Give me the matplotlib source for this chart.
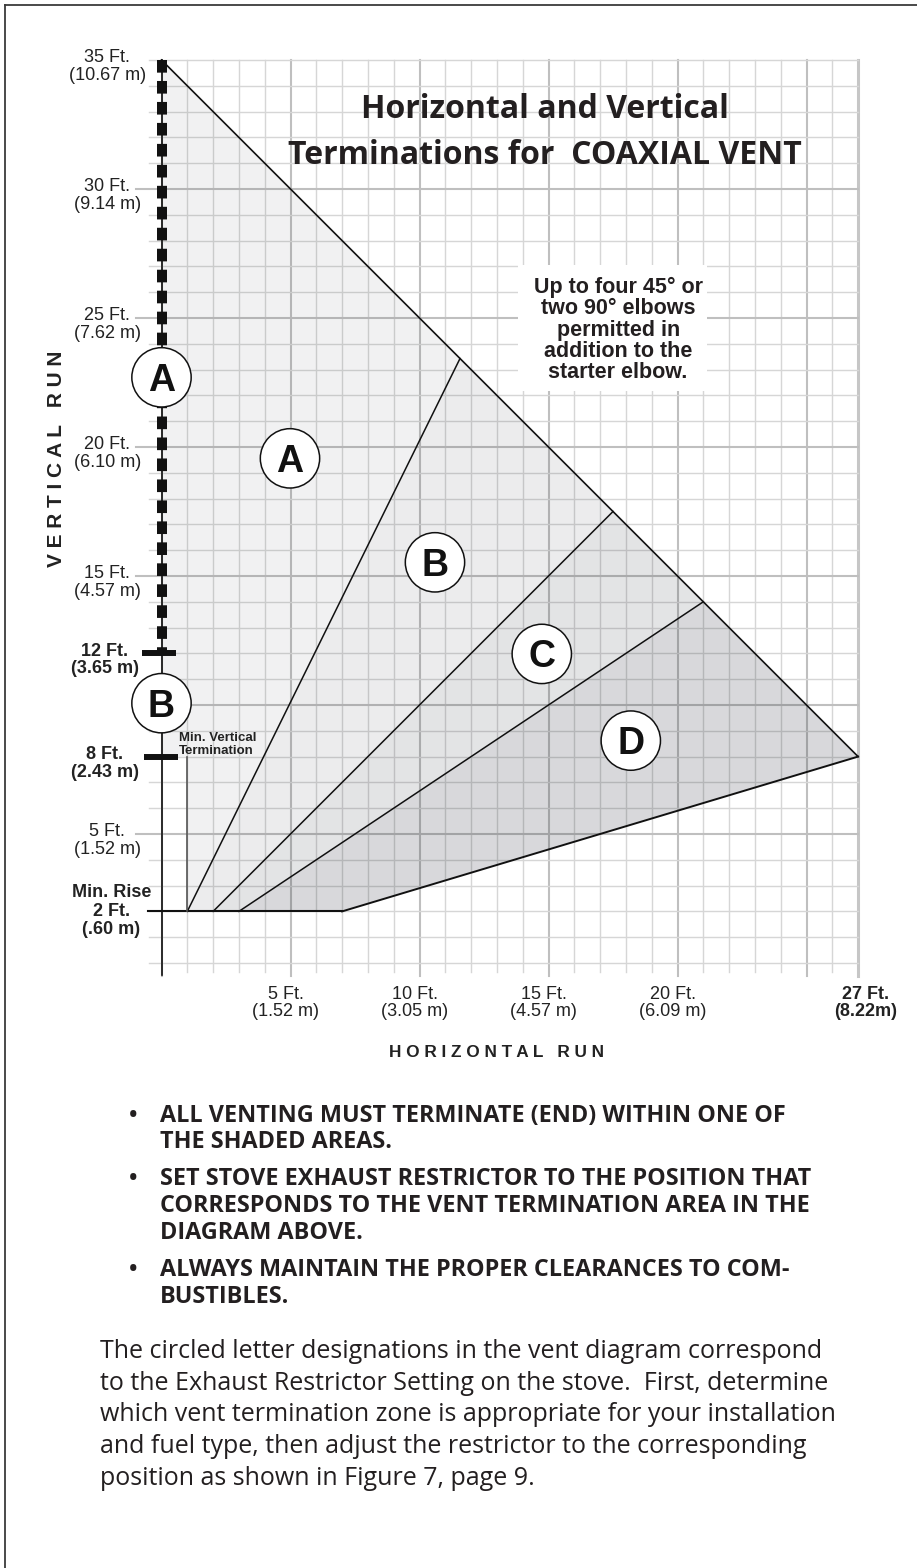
import matplotlib
matplotlib.use("Agg")
import matplotlib.pyplot as plt
from matplotlib.patches import Polygon, Circle, Rectangle
from matplotlib.lines import Line2D

plt.rcParams['lines.scale_dashes'] = False

# ---- chart values (feet) ----
max_rise = 35          # top of vertical run
max_run = 27           # end of horizontal run
end_height = 8         # height of the zone D corner at 27 ft
min_rise = 2
min_vertical = 8
coax_limit = 12        # dashed part of the vertical run starts here
floor_end = 7          # flat part of zone D bottom edge ends here
divider_base = [1, 2, 3]
divider_top = [11.57, 17.5, 21.0]
zone_letters = ['A', 'B', 'C', 'D']
zone_x = [4.98, 10.6, 14.74, 18.19]
zone_y = [19.56, 15.53, 11.98, 8.62]
zone_shade = [0.055, 0.078, 0.115, 0.16]
axis_letters = ['A', 'B']
axis_letter_y = [22.7, 10.07]

y_ticks = [35, 30, 25, 20, 15, 5]
y_ft = ['35 Ft.', '30 Ft.', '25 Ft.', '20 Ft.', '15 Ft.', '5 Ft.']
y_m = ['(10.67 m)', '(9.14 m)', '(7.62 m)', '(6.10 m)', '(4.57 m)', '(1.52 m)']
y_bold_ticks = [12, 8]
y_bold_ft = ['12 Ft.', '8 Ft.']
y_bold_m = ['(3.65 m)', '(2.43 m)']
x_ticks = [5, 10, 15, 20]
x_ft = ['5 Ft.', '10 Ft.', '15 Ft.', '20 Ft.']
x_m = ['(1.52 m)', '(3.05 m)', '(4.57 m)', '(6.09 m)']

note_lines = ['Up to four 45\u00b0 or', 'two 90\u00b0 elbows', 'permitted in',
              'addition to the', 'starter elbow.']
bullets = [
    ['ALL VENTING MUST TERMINATE (END) WITHIN ONE OF', 'THE SHADED AREAS.'],
    ['SET STOVE EXHAUST RESTRICTOR TO THE POSITION THAT',
     'CORRESPONDS TO THE VENT TERMINATION AREA IN THE', 'DIAGRAM ABOVE.'],
    ['ALWAYS MAINTAIN THE PROPER CLEARANCES TO COM-', 'BUSTIBLES.'],
]
paragraph = [
    'The circled letter designations in the vent diagram correspond',
    'to the Exhaust Restrictor Setting on the stove.  First, determine',
    'which vent termination zone is appropriate for your installation',
    'and fuel type, then adjust the restrictor to the corresponding',
    'position as shown in Figure 7, page 9.',
]

W, H = 917, 1568
PPF = 25.8            # pixels per foot
X0, Y0 = 161.5, 963   # pixel position of (0, 0)
ARIAL = 'Liberation Sans'
MYRIAD = 'Open Sans'
LBL = 13              # tick label size

fig = plt.figure(figsize=(W / 100, H / 100), dpi=100)
ax = fig.add_axes([0, 0, 1, 1])
ax.set_xlim(-X0 / PPF, (W - X0) / PPF)
ax.set_ylim((Y0 - H) / PPF, Y0 / PPF)
ax.axis('off')


def cap_text(x, y, s, size, ha='center', weight='normal', family=ARIAL, z=6, **kw):
    # put the middle of the capitals at y
    base = y - 0.36 * size * 1.389 / PPF
    ax.text(x, base, s, fontsize=size, ha=ha, va='baseline', fontweight=weight,
            family=family, zorder=z, **kw)


# ---- grid ----
for x in range(0, max_run + 1):
    major = x % 5 == 0 or x == max_run
    col = '#bfbfbf' if major else '#d6d6d6'
    lw = 1.5 if major else 1.0
    if x == max_run:
        col, lw = '#c6c6c6', 2.2
    ax.plot([x, x], [-0.5 if major else -0.35, max_rise], color=col, lw=lw, zorder=1)
for y in range(0, max_rise + 1):
    major = y % 5 == 0 and 0 < y < max_rise
    ax.plot([-1.0 if major else -0.5, max_run], [y, y],
            color='#bfbfbf' if major else '#d6d6d6', lw=1.5 if major else 1.0, zorder=1)

# ---- shaded zones ----
tops = [(t, max_rise - t) for t in divider_top]
zones = [
    [(0, max_rise), tops[0], (divider_base[0], min_rise), (divider_base[0], min_vertical), (0, min_vertical)],
    [(divider_base[0], min_rise), tops[0], tops[1], (divider_base[1], min_rise)],
    [(divider_base[1], min_rise), tops[1], tops[2], (divider_base[2], min_rise)],
    [(divider_base[2], min_rise), tops[2], (max_run, end_height), (floor_end, min_rise)],
]
for pts, a in zip(zones, zone_shade):
    ax.add_patch(Polygon(pts, closed=True, facecolor=(0.05, 0.07, 0.12, a), edgecolor='none', zorder=2))

# ---- boundary lines ----
ax.plot([0, max_run], [max_rise, end_height], color='#111111', lw=1.2, zorder=3)
for b, t in zip(divider_base, tops):
    ax.plot([b, t[0]], [min_rise, t[1]], color='#111111', lw=1.1, zorder=3)
ax.plot([-0.52, floor_end], [min_rise, min_rise], color='#111111', lw=1.5, zorder=3)
ax.plot([floor_end, max_run], [min_rise, end_height], color='#111111', lw=1.4, zorder=3)
ax.plot([divider_base[0], divider_base[0]], [min_rise, min_vertical], color='#555555', lw=1.2, zorder=3)

# vertical run axis
ax.plot([0, 0], [-0.47, max_rise], color='#111111', lw=1.2, zorder=3)
ax.plot([0, 0], [max_rise, coax_limit], color='#111111', lw=7.2,
        dashes=(9.1, 6.0), solid_capstyle='butt', dash_capstyle='butt', zorder=4)
ax.plot([-0.76, 0.55], [coax_limit, coax_limit], color='#111111', lw=4.3, solid_capstyle='butt', zorder=4)
ax.plot([-0.67, 0.65], [min_vertical, min_vertical], color='#111111', lw=4.3, solid_capstyle='butt', zorder=4)

# ---- circled letters ----
R = 1.15
for letter, cx, cy in zip(zone_letters, zone_x, zone_y):
    ax.add_patch(Circle((cx, cy), R, facecolor='white', edgecolor='#111111', lw=1.1, zorder=5))
    cap_text(cx, cy, letter, 27, weight='bold', color='#111111')
for letter, cy in zip(axis_letters, axis_letter_y):
    ax.add_patch(Circle((0, cy), R, facecolor='white', edgecolor='#111111', lw=1.1, zorder=5))
    cap_text(0, cy, letter, 27, weight='bold', color='#111111')

# ---- tick labels ----
for t, a, b in zip(y_ticks, y_ft, y_m):
    cap_text(-2.1, t + 0.18, a, LBL, color='#222222')
    cap_text(-2.1, t - 0.52, b, LBL, color='#222222')
for t, a, b in zip(y_bold_ticks, y_bold_ft, y_bold_m):
    cap_text(-2.2, t + 0.17, a, LBL, weight='bold', color='#222222')
    cap_text(-2.2, t - 0.52, b, LBL, weight='bold', color='#222222')
for s, dy in zip(['Min. Rise', '2 Ft.', '(.60 m)'], [0.81, 0.09, -0.62]):
    cap_text(-1.95, min_rise + dy, s, LBL, weight='bold', color='#222222')
for t, a, b in zip(x_ticks, x_ft, x_m):
    cap_text(t - 0.18, -1.15, a, LBL, color='#222222')
    cap_text(t - 0.18, -1.82, b, LBL, color='#222222')
cap_text(max_run + 0.3, -1.15, '27 Ft.', LBL, weight='bold', color='#222222')
cap_text(max_run + 0.3, -1.82, '(8.22m)', LBL, weight='bold', color='#222222')

cap_text(0.68, 8.8, 'Min. Vertical', 9.5, ha='left', weight='bold', color='#222222')
cap_text(0.68, 8.29, 'Termination', 9.5, ha='left', weight='bold', color='#222222')

# axis titles (letter spaced)
cap_text(13.0, -3.4, 'H O R I Z O N T A L   R U N', 12.4, weight='bold', color='#222222')
ax.text(-4.06, 19.53, 'V E R T I C A L   R U N', rotation=90, fontsize=15,
        fontweight='bold', family=ARIAL, color='#222222', ha='center', va='center', zorder=6)

# ---- title and note ----
cap_text(14.87, 33.18, 'Horizontal and Vertical', 23, weight='bold', family=MYRIAD, color='#231f20')
cap_text(14.87, 31.41, 'Terminations for  COAXIAL VENT', 23, weight='bold', family=MYRIAD, color='#231f20')

ax.add_patch(Rectangle((13.82, 22.17), 7.31, 4.88, facecolor='white', edgecolor='none', zorder=4))
for i, s in enumerate(note_lines):
    cap_text(17.7, 26.28 - i * 0.83, s, 15.5, weight='bold', color='#231f20')

# ---- text below the chart ----
def fig_text(xp, yp, s, **kw):
    fig.text(xp / W, 1 - yp / H, s, va='baseline', **kw)


bullet_base = [[1122, 1148], [1185, 1212, 1239], [1276, 1303]]
for lines, bases in zip(bullets, bullet_base):
    fig_text(133, bases[0], '\u2022', fontsize=16, family=MYRIAD, fontweight='bold', ha='center', color='#231f20')
    for s, b in zip(lines, bases):
        fig_text(160, b, s, fontsize=16.8, family=MYRIAD, fontweight='bold', color='#231f20')

for i, s in enumerate(paragraph):
    fig_text(100, 1358 + i * 31.7, s, fontsize=18, family=MYRIAD, color='#231f20')

# page border (top and left)
fig.add_artist(Line2D([5 / W, 1], [1 - 5 / H, 1 - 5 / H], transform=fig.transFigure, color='#3a3a3a', lw=1.3))
fig.add_artist(Line2D([5 / W, 5 / W], [0, 1 - 5 / H], transform=fig.transFigure, color='#3a3a3a', lw=1.3))

fig.savefig('out.png', dpi=100, facecolor='white')
